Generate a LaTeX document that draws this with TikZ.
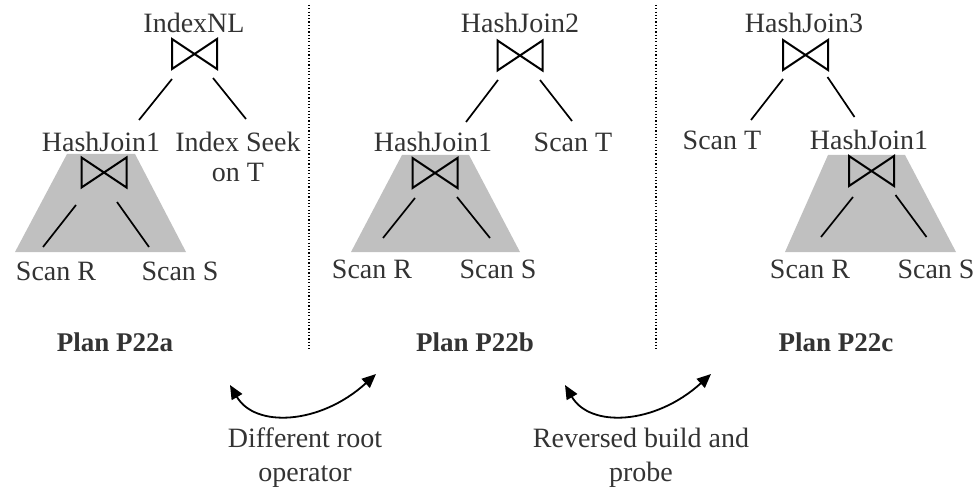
\documentclass[tikz,border=0pt]{standalone}
\usepackage{fontspec}
\setmainfont{Liberation Serif}
\usetikzlibrary{arrows.meta}
\definecolor{txt}{HTML}{333333}
\definecolor{shade}{HTML}{C0C0C0}
\begin{document}
\begin{tikzpicture}[x=1pt,y=-1pt,
  lbl/.style={anchor=base, text=txt, font=\fontsize{28}{30}\selectfont, inner sep=0pt, align=center},
  plancap/.style={anchor=base, text=txt, font=\fontsize{27}{30}\selectfont\bfseries, inner sep=0pt},
  bowtie/.style={minimum width=45pt, minimum height=30pt, inner sep=0pt, outer sep=0pt},
  btline/.style={line width=2pt, line join=miter},
  conn/.style={line width=1.7pt},
  shadebox/.style={fill=shade},
  sepline/.style={line width=1.3pt, dash pattern=on 1.2pt off 2.1pt},
  swaparrow/.style={line width=1.8pt, {Triangle[length=14pt,width=12pt]}-{Triangle[length=14pt,width=12pt]}},
]
\useasboundingbox (0,0) rectangle (977,489);

% ---------- shaded subtrees ----------
\fill[shadebox] (67,154) -- (135,154) -- (186,252) -- (15,252) -- cycle;
\fill[shadebox] (402,155) -- (469,155) -- (520,252) -- (351,252) -- cycle;
\fill[shadebox] (828,155) -- (905,155) -- (956,252) -- (785,252) -- cycle;

% ---------- separators ----------
\coordinate (s1a) at (309,5);  \coordinate (s1b) at (309,351);
\coordinate (s2a) at (656,5);  \coordinate (s2b) at (656,350);
\draw[sepline] (s1a) -- (s1b);
\draw[sepline] (s2a) -- (s2b);

% ---------- Plan P22a ----------
\node[lbl] (t1) at (194,33) {IndexNL};
\node[bowtie] (b1) at (194.5,54) {};
\node[lbl] (h1a) at (101,152) {HashJoin1};
\node[lbl] (ist) at (238,182) {Index Seek\\on T};
\node[bowtie] (b1i) at (104,172.5) {};
\node[lbl] (r1) at (56,280) {Scan R};
\node[lbl] (s1) at (180,280) {Scan S};
\node[plancap] (p1) at (115,351) {Plan P22a};
\draw[conn] ([shift={(0,10)}]b1.south west) -- ++(-33,41);
\draw[conn] ([shift={(-4,9)}]b1.south east) -- ++(33,41);
\draw[conn] ([shift={(-5.5,17.5)}]b1i.south west) -- ++(-33,42);
\draw[conn] ([shift={(-9.5,14.5)}]b1i.south east) -- ++(32,45);

% ---------- Plan P22b ----------
\node[lbl] (t2) at (520,33) {HashJoin2};
\node[bowtie] (b2) at (520,55.5) {};
\node[lbl] (h1b) at (433,152) {HashJoin1};
\node[lbl] (st2) at (573,152) {Scan T};
\node[bowtie] (b2i) at (435,173) {};
\node[lbl] (r2) at (372,278) {Scan R};
\node[lbl] (s2) at (498,278) {Scan S};
\node[plancap] (p2) at (475,351) {Plan P22b};
\draw[conn] ([shift={(0.5,9.5)}]b2.south west) -- ++(-32,42);
\draw[conn] ([shift={(-2.5,9.5)}]b2.south east) -- ++(32,41);
\draw[conn] ([shift={(2.5,10)}]b2i.south west) -- ++(-32,40);
\draw[conn] ([shift={(-0.5,9)}]b2i.south east) -- ++(33,41);

% ---------- Plan P22c ----------
\node[lbl] (t3) at (804,33) {HashJoin3};
\node[bowtie] (b3) at (805.5,55) {};
\node[lbl] (st3) at (722,150) {Scan T};
\node[lbl] (h1c) at (869,150) {HashJoin1};
\node[bowtie] (b3i) at (871.5,171) {};
\node[lbl] (r3) at (810,278) {Scan R};
\node[lbl] (s3) at (936,278) {Scan S};
\node[plancap] (p3) at (836,351) {Plan P22c};
\draw[conn] ([shift={(0,9)}]b3.south west) -- ++(-32,41);
\draw[conn] ([shift={(-0.5,7)}]b3.south east) -- ++(27,40);
\draw[conn] ([shift={(4,11)}]b3i.south west) -- ++(-32,40);
\draw[conn] ([shift={(1.5,9)}]b3i.south east) -- ++(31,42);

% ---------- bowtie symbols ----------
\foreach \b in {b1,b1i,b2,b2i,b3,b3i}
  \draw[btline] (\b.north west) -- (\b.south west) -- (\b.north east) -- (\b.south east) -- cycle;

% ---------- transformation arrows ----------
\coordinate (a1l) at (230,385);
\coordinate (a1r) at (376,374);
\coordinate (a2l) at (565,385);
\coordinate (a2r) at (711,374);
\draw[swaparrow] (a1l) .. controls (255,428) and (320,425) .. (a1r);
\draw[swaparrow] (a2l) .. controls (590,428) and (655,425) .. (a2r);
\node[lbl, font=\fontsize{28}{34}\selectfont] (d1) at (305,481) {Different root\\operator};
\node[lbl, font=\fontsize{28}{34}\selectfont] (d2) at (641,481) {Reversed build and\\probe};
\end{tikzpicture}
\end{document}
